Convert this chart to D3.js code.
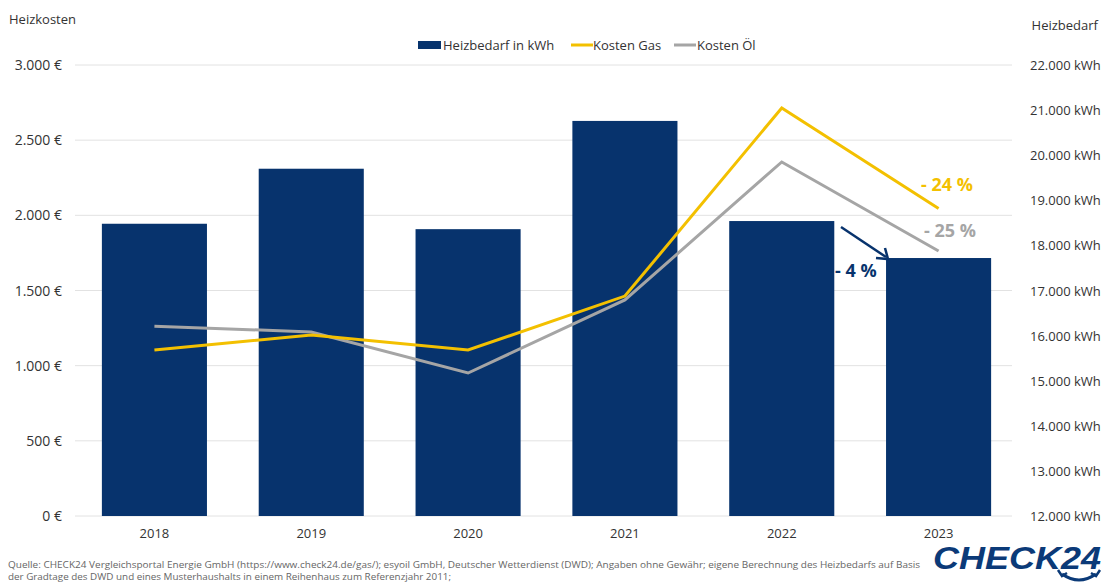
<!DOCTYPE html>
<html>
<head>
<meta charset="utf-8">
<title>Heizkosten und Heizbedarf</title>
<script src="https://d3js.org/d3.v7.min.js"></script>
<style>
  body { margin: 0; background: #fff; }
  svg text { font-family: "Open Sans", "Noto Sans", sans-serif; }
</style>
</head>
<body>
<svg id="chart" width="1104" height="582"></svg>
<script>
// data
var years = ["2018", "2019", "2020", "2021", "2022", "2023"];
var heizbedarf = [18480, 19700, 18360, 20760, 18540, 17720];   // kWh, right axis
var kostenGas = [1104, 1204, 1104, 1463, 2714, 2045];          // EUR, left axis
var kostenOel = [1263, 1224, 951, 1437, 2355, 1763];           // EUR, left axis
var leftTicks = [0, 500, 1000, 1500, 2000, 2500, 3000];
var rightTicks = [12000, 13000, 14000, 15000, 16000, 17000, 18000, 19000, 20000, 21000, 22000];

var navy = "#07336d", gold = "#f3c000", grey = "#a5a5a5";
var fmt = d3.formatLocale({ decimal: ",", thousands: ".", grouping: [3], currency: ["", " €"] });
var num = fmt.format(",");

var svg = d3.select("#chart");

var x = d3.scaleBand().domain(years).range([76, 1017]).paddingInner(0.33).paddingOuter(0.165);
var yL = d3.scaleLinear().domain([0, 3000]).range([516, 65]);
var yR = d3.scaleLinear().domain([12000, 22000]).range([516, 65]);

// gridlines
svg.append("g").selectAll("line").data(leftTicks).enter().append("line")
  .attr("x1", 75).attr("x2", 1012)
  .attr("y1", d => yL(d)).attr("y2", d => yL(d))
  .attr("stroke", "#e2e2e2").attr("stroke-width", 1);

// left axis labels
svg.append("g").selectAll("text").data(leftTicks).enter().append("text")
  .attr("x", 62).attr("y", d => yL(d) + 5)
  .attr("text-anchor", "end").attr("font-size", 14).attr("fill", "#333")
  .text(d => num(d) + " €");

// right axis labels
svg.append("g").selectAll("text").data(rightTicks).enter().append("text")
  .attr("x", 1030).attr("y", d => yR(d) + 5)
  .attr("font-size", 13).attr("fill", "#333")
  .text(d => num(d) + " kWh");

// axis titles
svg.append("text").attr("x", 9).attr("y", 24).attr("font-size", 13).attr("fill", "#333").text("Heizkosten");
svg.append("text").attr("x", 1098).attr("y", 30).attr("text-anchor", "end").attr("font-size", 13).attr("fill", "#333").text("Heizbedarf");

// bars
svg.append("g").selectAll("rect").data(years).enter().append("rect")
  .attr("x", d => x(d)).attr("width", x.bandwidth())
  .attr("y", (d, i) => yR(heizbedarf[i]))
  .attr("height", (d, i) => yR(12000) - yR(heizbedarf[i]))
  .attr("fill", navy);

// year labels
svg.append("g").selectAll("text").data(years).enter().append("text")
  .attr("x", d => x(d) + x.bandwidth() / 2).attr("y", 538)
  .attr("text-anchor", "middle").attr("font-size", 13).attr("fill", "#333")
  .text(d => d);

// lines
var line = d3.line().x((d, i) => x(years[i]) + x.bandwidth() / 2).y(d => yL(d));
svg.append("path").datum(kostenOel).attr("d", line)
  .attr("fill", "none").attr("stroke", grey).attr("stroke-width", 3);
svg.append("path").datum(kostenGas).attr("d", line)
  .attr("fill", "none").attr("stroke", gold).attr("stroke-width", 3);

// annotations
svg.append("text").attr("x", 921).attr("y", 191).attr("font-size", 18).attr("font-weight", "bold")
  .attr("fill", gold).text("- 24 %");
svg.append("text").attr("x", 924).attr("y", 237).attr("font-size", 18).attr("font-weight", "bold")
  .attr("fill", grey).text("- 25 %");
svg.append("text").attr("x", 835).attr("y", 277).attr("font-size", 18).attr("font-weight", "bold")
  .attr("fill", navy).text("- 4 %");

// arrow
svg.append("line").attr("x1", 841).attr("y1", 227).attr("x2", 886).attr("y2", 257)
  .attr("stroke", navy).attr("stroke-width", 2.5);
svg.append("path").attr("d", "M876,258 L888,259 L885,248")
  .attr("fill", "none").attr("stroke", navy).attr("stroke-width", 2.5).attr("stroke-linejoin", "miter");

// legend
var leg = svg.append("g").attr("font-size", 13).attr("fill", "#333");
leg.append("rect").attr("x", 418).attr("y", 41).attr("width", 23).attr("height", 8).attr("fill", navy);
leg.append("text").attr("x", 443).attr("y", 50).text("Heizbedarf in kWh");
leg.append("line").attr("x1", 571).attr("x2", 593).attr("y1", 45).attr("y2", 45).attr("stroke", gold).attr("stroke-width", 3);
leg.append("text").attr("x", 593).attr("y", 50).text("Kosten Gas");
leg.append("line").attr("x1", 674).attr("x2", 696).attr("y1", 45).attr("y2", 45).attr("stroke", grey).attr("stroke-width", 3);
leg.append("text").attr("x", 697).attr("y", 50).text("Kosten Öl");

// source
svg.append("text").attr("x", 8).attr("y", 567.5).attr("font-size", 8.5).attr("fill", "#666")
  .attr("textLength", 912).attr("lengthAdjust", "spacingAndGlyphs")
  .text("Quelle: CHECK24 Vergleichsportal Energie GmbH (https://www.check24.de/gas/); esyoil GmbH, Deutscher Wetterdienst (DWD); Angaben ohne Gewähr; eigene Berechnung des Heizbedarfs auf Basis");
svg.append("text").attr("x", 8).attr("y", 579.5).attr("font-size", 8.5).attr("fill", "#666")
  .attr("textLength", 443).attr("lengthAdjust", "spacingAndGlyphs")
  .text("der Gradtage des DWD und eines Musterhaushalts in einem Reihenhaus zum Referenzjahr 2011;");

// logo
svg.append("text").attr("x", 933).attr("y", 569).attr("font-size", 31).attr("font-weight", "bold")
  .attr("font-style", "italic").attr("fill", "#0b3a78")
  .attr("textLength", 168).attr("lengthAdjust", "spacingAndGlyphs")
  .style("font-family", "'Liberation Sans', Arial, sans-serif")
  .text("CHECK24");
svg.append("path").attr("d", "M1062,574 Q1079,586 1096,574")
  .attr("fill", "none").attr("stroke", "#0b3a78").attr("stroke-width", 3);
svg.append("path").attr("d", "M1058,570 L1062,576 L1067,573 M1100,570 L1096,576 L1091,573")
  .attr("fill", "none").attr("stroke", "#0b3a78").attr("stroke-width", 2.5);
</script>
</body>
</html>
